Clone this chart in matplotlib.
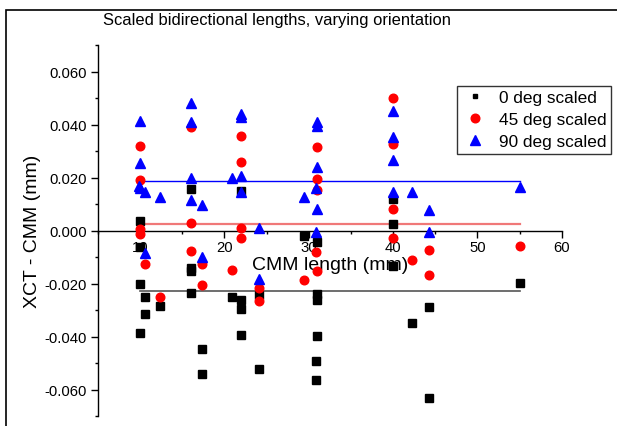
import matplotlib
matplotlib.use("Agg")
import matplotlib.pyplot as plt
from matplotlib.lines import Line2D
from matplotlib.patches import Rectangle
from matplotlib.ticker import MultipleLocator, FormatStrFormatter

plt.rcParams['font.family'] = ['Liberation Sans', 'DejaVu Sans']

# ---- data ----
x0 = [10, 10, 10, 10, 10.6, 10.6, 12.3, 16, 16, 16, 16, 17.3, 17.3, 20.9,
      22, 22, 22, 22, 24.1, 24.1, 29.4, 31, 31, 31, 31, 30.8, 30.8,
      40, 40, 40, 42.2, 44.3, 44.3, 55]
y0 = [0.0036, -0.0062, -0.0201, -0.0387, -0.0251, -0.0315, -0.0285,
      0.0155, -0.0141, -0.0154, -0.0235, -0.0447, -0.0540, -0.0250,
      0.0150, -0.0262, -0.0297, -0.0394, -0.0245, -0.0524, -0.0022,
      -0.0045, -0.0240, -0.0262, -0.0397, -0.0494, -0.0566,
      0.0119, 0.0025, -0.0135, -0.0350, -0.0290, -0.0632, -0.0197]

x45 = [10, 10, 10, 10, 10.6, 12.3, 16, 16, 16, 17.3, 17.3, 20.9,
       22, 22, 22, 22, 24.1, 24.1, 29.4, 31, 31, 31, 30.8, 31,
       40, 40, 40, 40, 42.2, 44.3, 44.3, 55]
y45 = [0.0318, 0.0192, 0.0005, -0.0012, -0.0128, -0.0250, 0.0392, 0.0028,
       -0.0076, -0.0128, -0.0207, -0.0150, 0.0355, 0.0257, 0.0009, -0.0029,
       -0.0216, -0.0266, -0.0187, 0.0315, 0.0194, 0.0152, -0.0080, -0.0153,
       0.0500, 0.0327, 0.0080, -0.0029, -0.0110, -0.0072, -0.0168, -0.0057]

x90 = [10, 10, 9.9, 10, 10.6, 10.6, 12.3, 16, 16, 16, 16, 17.3, 17.3, 20.9,
       22, 22, 22, 22, 24.1, 24.1, 29.4, 31, 31, 31, 30.8, 31, 30.8,
       40, 40, 40, 40, 42.2, 44.3, 44.3, 55]
y90 = [0.0415, 0.0255, 0.0167, 0.0160, 0.0146, -0.0085, 0.0127, 0.0480,
       0.0408, 0.0200, 0.0115, 0.0095, -0.0100, 0.0200, 0.0440, 0.0430,
       0.0205, 0.0146, 0.0009, -0.0182, 0.0127, 0.0408, 0.0396, 0.0240,
       0.0159, 0.0080, -0.0006, 0.0450, 0.0352, 0.0267, 0.0146, 0.0146,
       0.0078, -0.0007, 0.0165]

mean_x = [10, 55]
mean0 = -0.0228
mean45 = 0.0025
mean90 = 0.0187

labels = ['0 deg scaled', '45 deg scaled', '90 deg scaled']
title = 'Scaled bidirectional lengths, varying orientation'

# ---- figure ----
fig = plt.figure(figsize=(6.17, 4.27), dpi=100)
ax = fig.add_axes([98 / 617, 10 / 427, 463.7 / 617, 371 / 427])

ax.plot(mean_x, [mean0, mean0], color='#555555', lw=1.2, zorder=1)
ax.plot(mean_x, [mean45, mean45], color='#f07878', lw=1.6, zorder=1)
ax.plot(mean_x, [mean90, mean90], color='#0000ff', lw=1.0, zorder=1)

ax.plot(x0, y0, 's', color='black', ms=5.3, mec='black', ls='none', zorder=3)
ax.plot(x45, y45, 'o', color='red', ms=6.2, mec='red', ls='none', zorder=4)
ax.plot(x90, y90, '^', color='blue', ms=7.0, mec='blue', ls='none', zorder=5)

ax.set_xlim(5, 60)
ax.set_ylim(-0.07, 0.07)

ax.spines['top'].set_visible(False)
ax.spines['right'].set_visible(False)
ax.spines['bottom'].set_position(('data', 0))
for s in ('left', 'bottom'):
    ax.spines[s].set_linewidth(1.0)

ax.xaxis.set_major_locator(MultipleLocator(10))
ax.xaxis.set_minor_locator(MultipleLocator(5))
ax.yaxis.set_major_locator(MultipleLocator(0.02))
ax.yaxis.set_minor_locator(MultipleLocator(0.01))
ax.yaxis.set_major_formatter(FormatStrFormatter('%.3f'))

ax.tick_params(axis='both', which='major', direction='out', length=5,
               width=1.0, labelsize=10.7)
ax.tick_params(axis='both', which='minor', direction='out', length=2.5,
               width=1.0)
ax.tick_params(axis='x', pad=2)
ax.tick_params(axis='y', pad=3)

ax.set_xlabel('CMM length (mm)', fontsize=14, labelpad=1)
ax.set_ylabel('XCT - CMM (mm)', fontsize=14)
ax.yaxis.set_label_coords(-0.123, 0.5)
ax.set_xticks([10, 20, 30, 40, 50, 60])

fig.text(277 / 617, 1 - 21 / 427, title, fontsize=11.9,
         ha='center', va='center')

handles = [
    Line2D([], [], marker='s', color='black', ms=3.5, ls='none'),
    Line2D([], [], marker='o', color='red', ms=6.2, ls='none'),
    Line2D([], [], marker='^', color='blue', ms=7.0, ls='none'),
]
leg = fig.legend(handles, labels, loc='upper left',
                 bbox_to_anchor=(457 / 617, 1 - 87 / 427),
                 bbox_transform=fig.transFigure,
                 fontsize=12.4, frameon=True, fancybox=False,
                 borderpad=0.25, labelspacing=0.4, handletextpad=0.6,
                 handlelength=1.6, borderaxespad=0)
leg.get_frame().set_edgecolor('black')
leg.get_frame().set_linewidth(1.0)

fig.patches.append(Rectangle((6 / 617, -0.2), 1.2, 1.2 - 11 / 427,
                             transform=fig.transFigure, fill=False,
                             lw=1.2, edgecolor='black'))

fig.savefig('out.png', dpi=100)
